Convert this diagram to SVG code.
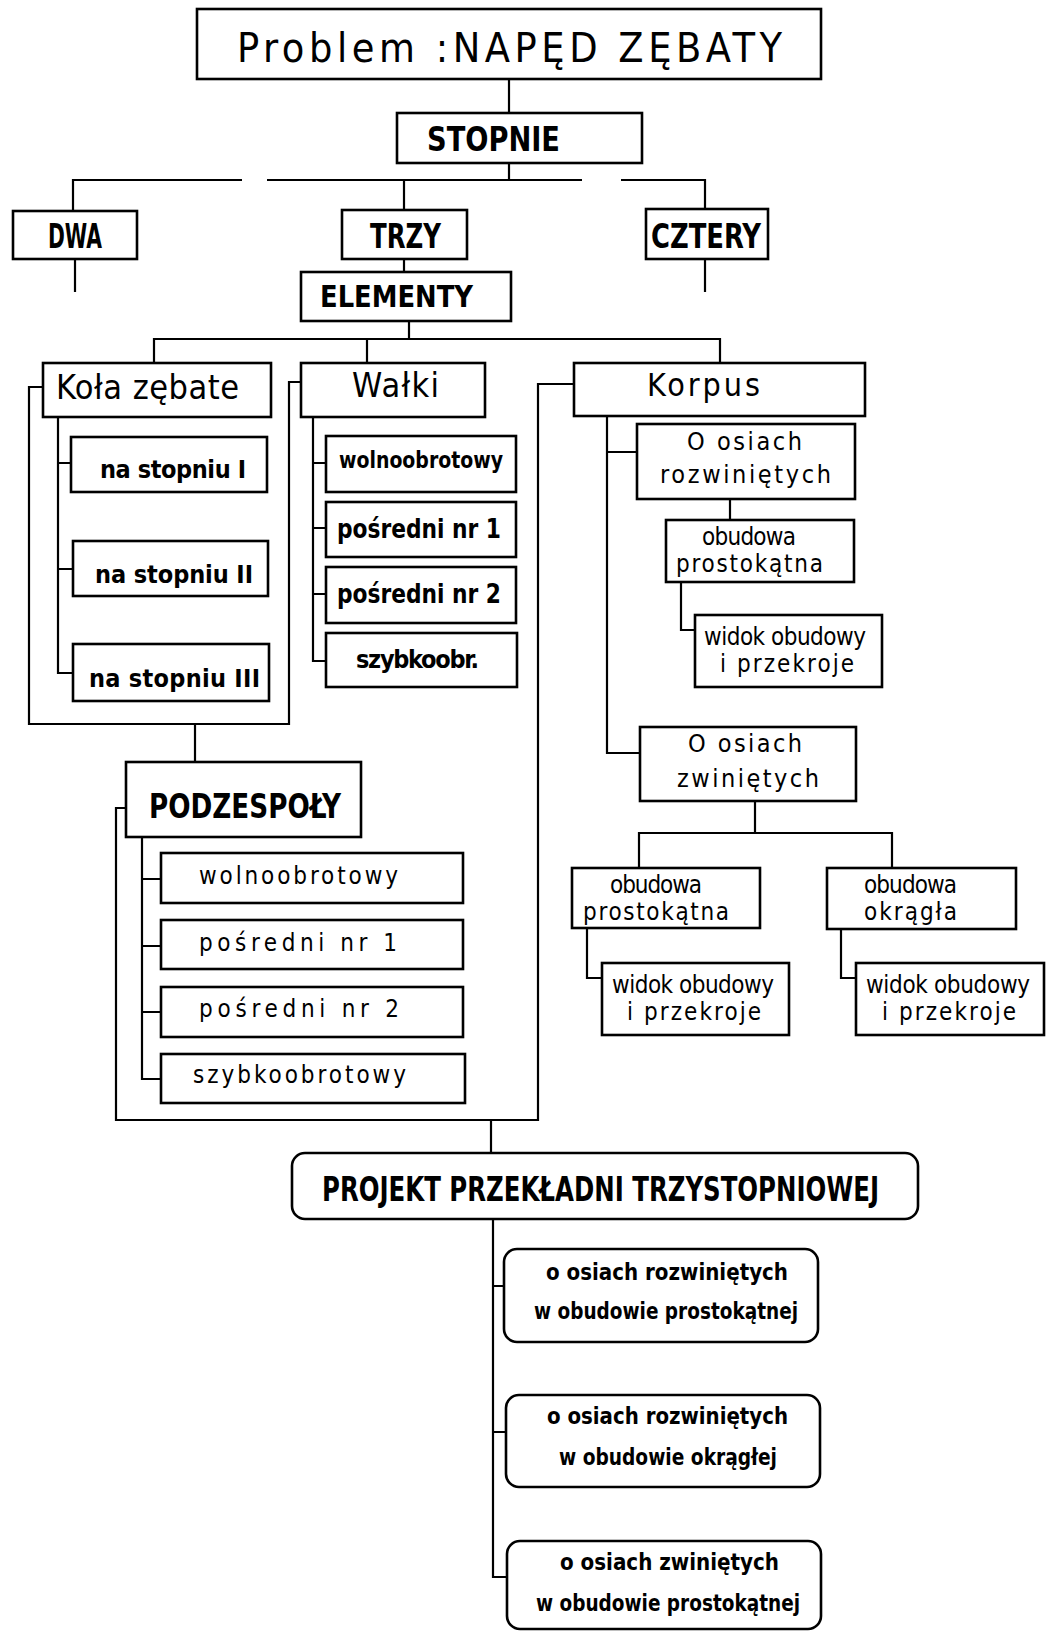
<svg xmlns="http://www.w3.org/2000/svg" width="1047" height="1632" viewBox="0 0 1047 1632">
<style>
.bg{fill:#fff}
.box{fill:none;stroke:#000;stroke-width:2.6}
.ln{fill:none;stroke:#000;stroke-width:2.2}
text{font-family:'DejaVu Sans Condensed','DejaVu Sans','Liberation Sans',sans-serif;fill:#000}
.t1{font-size:41px}
.hb{font-size:34px;font-weight:bold}
.h2{font-size:34px}
.m{font-size:25px}
.s{font-size:24px}
.sb{font-size:25px;font-weight:bold}
.pb{font-size:23px;font-weight:bold}
</style>
<rect class="bg" x="0" y="0" width="1047" height="1632"/>
<g id="connectors">
<path class="ln" d="M509,79 V113"/>
<path class="ln" d="M509,163 V180"/>
<path class="ln" d="M73,211 V180 H242"/>
<path class="ln" d="M267,180 H582"/>
<path class="ln" d="M621,180 H705 V209"/>
<path class="ln" d="M404,180 V210"/>
<path class="ln" d="M75,259 V292"/>
<path class="ln" d="M705,259 V292"/>
<path class="ln" d="M404,259 V272"/>
<path class="ln" d="M409,321 V339"/>
<path class="ln" d="M154,363 V339 H720 V363"/>
<path class="ln" d="M367,339 V363"/>
<path class="ln" d="M43,387 H29 V724 H289 V382 H301"/>
<path class="ln" d="M58,417 V673 H73 M58,463 H71 M58,569 H73"/>
<path class="ln" d="M313,417 V661 H326 M313,463 H326 M313,528 H326 M313,594 H326"/>
<path class="ln" d="M574,384 H538 V1120 H116 V808 H126"/>
<path class="ln" d="M607,416 V753 H640 M607,452 H637"/>
<path class="ln" d="M730,499 V520"/>
<path class="ln" d="M681,582 V630 H695"/>
<path class="ln" d="M755,801 V833 M639,868 V833 H892 V868"/>
<path class="ln" d="M587,928 V978 H602"/>
<path class="ln" d="M841,929 V978 H856"/>
<path class="ln" d="M195,724 V762"/>
<path class="ln" d="M142,837 V1079 H161 M142,879 H161 M142,946 H161 M142,1012 H161"/>
<path class="ln" d="M491,1120 V1153"/>
<path class="ln" d="M493,1219 V1577 H507 M493,1286 H504 M493,1432 H506"/>
</g>
<g id="n-problem"><rect class="box" x="197" y="9" width="624" height="70"/><text class="t1" x="237" y="62" textLength="545">Problem :NAPĘD ZĘBATY</text></g>
<g id="n-stopnie"><rect class="box" x="397" y="113" width="245" height="50"/><text class="hb" x="427" y="151" textLength="133" lengthAdjust="spacingAndGlyphs">STOPNIE</text></g>
<g id="n-dwa"><rect class="box" x="13" y="211" width="124" height="48"/><text class="hb" x="48" y="248" textLength="54" lengthAdjust="spacingAndGlyphs">DWA</text></g>
<g id="n-trzy"><rect class="box" x="342" y="210" width="125" height="49"/><text class="hb" x="370" y="248" textLength="71" lengthAdjust="spacingAndGlyphs">TRZY</text></g>
<g id="n-cztery"><rect class="box" x="646" y="209" width="122" height="50"/><text class="hb" x="651" y="248" textLength="110" lengthAdjust="spacingAndGlyphs">CZTERY</text></g>
<g id="n-elementy"><rect class="box" x="301" y="272" width="210" height="49"/><text class="hb" x="320" y="307" textLength="153" lengthAdjust="spacingAndGlyphs" style="font-size:31px">ELEMENTY</text></g>
<g id="n-kola"><rect class="box" x="43" y="363" width="228" height="54"/><text class="h2" x="56" y="399" textLength="183">Koła zębate</text></g>
<g id="n-walki"><rect class="box" x="301" y="363" width="184" height="54"/><text class="h2" x="352" y="397" textLength="87">Wałki</text></g>
<g id="n-korpus"><rect class="box" x="574" y="363" width="291" height="53"/><text class="h2" x="647" y="396" textLength="113" style="font-size:32px">Korpus</text></g>
<g id="n-kola1"><rect class="box" x="71" y="437" width="196" height="55"/><text class="sb" x="100" y="478" textLength="146">na stopniu I</text></g>
<g id="n-kola2"><rect class="box" x="73" y="541" width="195" height="55"/><text class="sb" x="95" y="583" textLength="158">na stopniu II</text></g>
<g id="n-kola3"><rect class="box" x="73" y="644" width="196" height="57"/><text class="sb" x="89" y="687" textLength="171">na stopniu III</text></g>
<g id="n-walki1"><rect class="box" x="326" y="436" width="190" height="56"/><text class="sb" x="339" y="468" textLength="164" lengthAdjust="spacingAndGlyphs" style="font-size:23px">wolnoobrotowy</text></g>
<g id="n-walki2"><rect class="box" x="326" y="502" width="190" height="55"/><text class="sb" x="337" y="538" textLength="164" lengthAdjust="spacingAndGlyphs" style="font-size:27px">pośredni nr 1</text></g>
<g id="n-walki3"><rect class="box" x="326" y="567" width="190" height="56"/><text class="sb" x="337" y="603" textLength="164" lengthAdjust="spacingAndGlyphs" style="font-size:27px">pośredni nr 2</text></g>
<g id="n-walki4"><rect class="box" x="326" y="633" width="191" height="54"/><text class="sb" x="356" y="668" textLength="123">szybkoobr.</text></g>
<g id="n-roz"><rect class="box" x="637" y="424" width="218" height="75"/><text class="m" x="687" y="450" textLength="115">O osiach</text><text class="m" x="660" y="483" textLength="171">rozwiniętych</text></g>
<g id="n-roz-prost"><rect class="box" x="666" y="520" width="188" height="62"/><text class="s" x="702" y="545" textLength="94">obudowa</text><text class="s" x="676" y="572" textLength="147">prostokątna</text></g>
<g id="n-roz-widok"><rect class="box" x="695" y="615" width="187" height="72"/><text class="s" x="704" y="645" textLength="162">widok obudowy</text><text class="s" x="720" y="672" textLength="134">i przekroje</text></g>
<g id="n-zwin"><rect class="box" x="640" y="727" width="216" height="74"/><text class="m" x="688" y="752" textLength="114">O osiach</text><text class="m" x="677" y="787" textLength="142">zwiniętych</text></g>
<g id="n-zwin-prost"><rect class="box" x="572" y="868" width="188" height="60"/><text class="s" x="610" y="893" textLength="92">obudowa</text><text class="s" x="583" y="920" textLength="146">prostokątna</text></g>
<g id="n-zwin-okr"><rect class="box" x="827" y="868" width="189" height="61"/><text class="s" x="864" y="893" textLength="93">obudowa</text><text class="s" x="864" y="920" textLength="93">okrągła</text></g>
<g id="n-zwin-prost-widok"><rect class="box" x="602" y="963" width="187" height="72"/><text class="s" x="612" y="993" textLength="162">widok obudowy</text><text class="s" x="627" y="1020" textLength="134">i przekroje</text></g>
<g id="n-zwin-okr-widok"><rect class="box" x="856" y="963" width="188" height="72"/><text class="s" x="866" y="993" textLength="164">widok obudowy</text><text class="s" x="882" y="1020" textLength="134">i przekroje</text></g>
<g id="n-podzespoly"><rect class="box" x="126" y="762" width="235" height="75"/><text class="hb" x="149" y="818" textLength="192" lengthAdjust="spacingAndGlyphs">PODZESPOŁY</text></g>
<g id="n-pod1"><rect class="box" x="161" y="853" width="302" height="50"/><text class="s" x="199" y="884" textLength="199">wolnoobrotowy</text></g>
<g id="n-pod2"><rect class="box" x="161" y="920" width="302" height="49"/><text class="s" x="199" y="951" textLength="198">pośredni nr 1</text></g>
<g id="n-pod3"><rect class="box" x="161" y="987" width="302" height="50"/><text class="s" x="199" y="1017" textLength="200">pośredni nr 2</text></g>
<g id="n-pod4"><rect class="box" x="161" y="1054" width="304" height="49"/><text class="s" x="193" y="1083" textLength="213">szybkoobrotowy</text></g>
<g id="n-projekt"><rect class="box" x="292" y="1153" width="626" height="66" rx="13"/><text class="hb" x="322" y="1201" textLength="557" lengthAdjust="spacingAndGlyphs">PROJEKT PRZEKŁADNI TRZYSTOPNIOWEJ</text></g>
<g id="n-proj1"><rect class="box" x="504" y="1249" width="314" height="93" rx="13"/><text class="pb" x="546" y="1280" textLength="242" lengthAdjust="spacingAndGlyphs">o osiach rozwiniętych</text><text class="pb" x="534" y="1319" textLength="264" lengthAdjust="spacingAndGlyphs">w obudowie prostokątnej</text></g>
<g id="n-proj2"><rect class="box" x="506" y="1395" width="314" height="92" rx="13"/><text class="pb" x="547" y="1424" textLength="241" lengthAdjust="spacingAndGlyphs">o osiach rozwiniętych</text><text class="pb" x="559" y="1465" textLength="218" lengthAdjust="spacingAndGlyphs">w obudowie okrągłej</text></g>
<g id="n-proj3"><rect class="box" x="507" y="1541" width="314" height="88" rx="13"/><text class="pb" x="560" y="1570" textLength="219" lengthAdjust="spacingAndGlyphs">o osiach zwiniętych</text><text class="pb" x="536" y="1611" textLength="264" lengthAdjust="spacingAndGlyphs">w obudowie prostokątnej</text></g>
</svg>
